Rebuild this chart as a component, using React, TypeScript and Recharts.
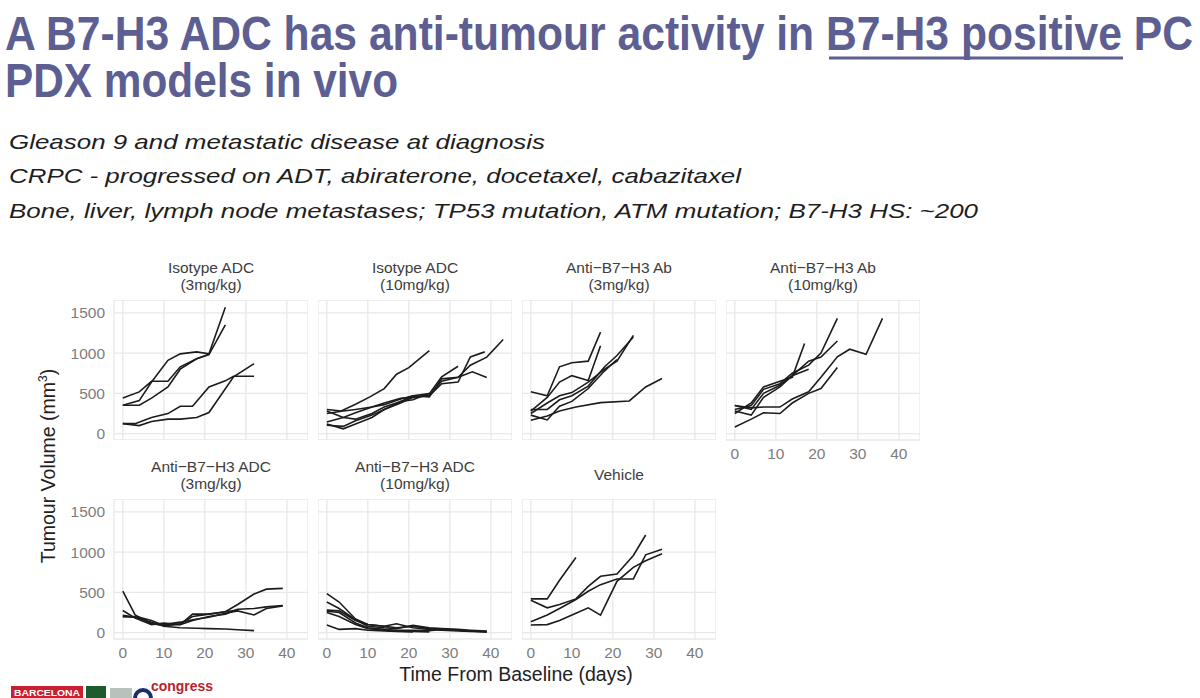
import { LineChart, Line, XAxis, YAxis, CartesianGrid } from 'recharts';

type Pt = [number, number];

// day / tumour volume (mm3) per mouse
const dayTicks = [0, 10, 20, 30, 40];
const volTicks = [0, 500, 1000, 1500];

const isotypeAdc3: Pt[][] = [
  [[0, 443], [4, 518], [7, 650], [11, 650], [14, 830], [18, 930], [21, 980], [25, 1350]],
  [[0, 352], [4, 410], [7, 640], [11, 910], [14, 990], [18, 1015], [21, 990], [25, 1570]],
  [[0, 352], [4, 352], [7, 440], [11, 580], [14, 800], [18, 930], [21, 985]],
  [[0, 124], [4, 100], [7, 150], [11, 180], [14, 180], [18, 200], [21, 262], [27, 705], [32, 870]],
  [[0, 124], [3, 124], [7, 200], [11, 249], [14, 340], [17, 340], [21, 580], [25, 655], [27, 713], [32, 713]],
];

const isotypeAdc10: Pt[][] = [
  [[0, 300], [3.5, 282], [7, 365], [10.5, 456], [14, 559], [17, 738], [20, 820], [25, 1030]],
  [[0, 250], [4, 280], [7, 300], [11, 330], [14, 360], [18, 430], [21, 470], [25, 497], [28, 704], [32, 837]],
  [[0, 145], [4, 200], [7, 260], [11, 330], [14, 380], [18, 440], [21, 450], [25, 480], [28, 650], [32, 700], [35.5, 767], [39, 696]],
  [[0, 104], [4, 90], [7, 160], [11, 230], [14, 300], [18, 380], [21, 450], [25, 470], [28, 620], [32, 640], [35, 953], [38.5, 1015]],
  [[0, 120], [4, 60], [7, 120], [11, 200], [14, 300], [18, 400], [21, 470], [25, 456], [28, 680], [32, 700], [35, 850], [39, 950], [43, 1169]],
  [[0, 280], [4, 200], [7, 180], [11, 250], [14, 330], [18, 400], [21, 420], [25, 500]],
];

const antiAb3: Pt[][] = [
  [[0, 520], [4, 470], [7, 830], [10, 880], [14, 900], [17, 1260]],
  [[0, 280], [4, 450], [7, 640], [10, 720], [14, 660], [17, 1090]],
  [[0, 250], [4, 380], [7, 470], [10, 510], [14, 640], [18, 800], [21, 900], [25, 1220]],
  [[0, 300], [4, 300], [7, 420], [10, 470], [14, 590], [18, 830], [21, 970], [25, 1200]],
  [[0, 230], [4, 170], [7, 340], [10, 400], [14, 560], [18, 780], [21, 920]],
  [[0, 166], [4, 220], [7, 280], [11, 330], [17, 385], [24, 406], [28, 580], [32, 684]],
];

const antiAb10: Pt[][] = [
  [[0, 300], [4, 350], [7, 550], [11, 620], [14, 750], [18, 850], [21, 1000], [25, 1430]],
  [[0, 350], [4, 300], [7, 500], [11, 600], [14, 720], [18, 900], [21, 950], [25, 1150]],
  [[0, 250], [4, 380], [7, 580], [11, 650], [14, 700], [17, 1120]],
  [[0, 280], [4, 230], [7, 450], [11, 580], [14, 720], [18, 800]],
  [[0, 350], [4, 320], [7, 330], [11, 330], [14, 430], [18, 520], [21, 700], [25, 953], [28, 1048], [32, 986], [36, 1430]],
  [[0, 83], [4, 180], [7, 260], [11, 250], [14, 380], [18, 500], [21, 560], [25, 820]],
];

const antiAdc3: Pt[][] = [
  [[0, 514], [3, 220], [7, 110], [10, 90], [14, 110], [17, 200], [21, 230], [25, 260], [28, 350], [32, 480], [35, 540], [39, 550]],
  [[0, 275], [3, 180], [7, 100], [10, 120], [14, 100], [17, 150], [21, 200], [25, 230], [28, 290], [32, 300], [35, 320], [39, 335]],
  [[0, 214], [3, 190], [7, 130], [10, 80], [14, 60], [18, 55], [21, 50], [25, 45], [28, 35], [32, 25]],
  [[0, 197], [3, 200], [7, 120], [10, 100], [14, 130], [17, 160], [21, 190], [25, 240], [28, 270], [32, 220], [35, 300], [39, 330]],
  [[0, 200], [4, 190], [7, 150], [10, 90], [14, 100], [17, 230], [21, 230], [25, 260], [28, 280]],
];

const antiAdc10: Pt[][] = [
  [[0, 484], [3, 380], [7, 170], [10, 100], [14, 80], [17, 110], [21, 60], [25, 40], [28, 30], [32, 20], [35, 15], [39, 10]],
  [[0, 381], [3, 300], [7, 160], [10, 80], [14, 60], [17, 50], [21, 90], [25, 60], [28, 50], [32, 40], [35, 30], [39, 20]],
  [[0, 266], [3, 250], [7, 120], [10, 60], [14, 40], [17, 30], [21, 30], [25, 25], [28, 40], [32, 30], [35, 20], [39, 15]],
  [[0, 250], [3, 200], [7, 100], [10, 50], [14, 30], [17, 20], [21, 15], [25, 10]],
  [[0, 94], [3, 40], [7, 50], [10, 30], [14, 20], [17, 15], [21, 10]],
  [[0, 280], [3, 270], [7, 150], [10, 100], [14, 80], [17, 60], [21, 80], [25, 50], [28, 40], [32, 30], [35, 20], [39, 10]],
];

const vehicle: Pt[][] = [
  [[0, 419], [4, 419], [7, 650], [11, 933]],
  [[0, 403], [4, 308], [7, 350], [11, 419], [14, 575], [17, 699], [21, 727], [25, 958], [28, 1212]],
  [[0, 136], [4, 220], [7, 300], [11, 411], [14, 514], [17, 596], [21, 666], [25, 666], [28, 966], [32, 1036]],
  [[0, 95], [4, 100], [7, 150], [11, 240], [14, 308], [17, 218], [21, 637], [25, 810], [28, 892], [32, 978]],
];

const panels = [
  { title: ['Isotype ADC', '(3mg/kg)'], mice: isotypeAdc3, row: 0, col: 0 },
  { title: ['Isotype ADC', '(10mg/kg)'], mice: isotypeAdc10, row: 0, col: 1 },
  { title: ['Anti\u2212B7\u2212H3 Ab', '(3mg/kg)'], mice: antiAb3, row: 0, col: 2 },
  { title: ['Anti\u2212B7\u2212H3 Ab', '(10mg/kg)'], mice: antiAb10, row: 0, col: 3 },
  { title: ['Anti\u2212B7\u2212H3 ADC', '(3mg/kg)'], mice: antiAdc3, row: 1, col: 0 },
  { title: ['Anti\u2212B7\u2212H3 ADC', '(10mg/kg)'], mice: antiAdc10, row: 1, col: 1 },
  { title: ['Vehicle'], mice: vehicle, row: 1, col: 2 },
];

const PLOT_W = 194;
const PLOT_H = 140;
const colLeft = [114, 318, 522, 726];
const rowTop = [300, 498.5];
const FONT = '"Liberation Sans", Arial, sans-serif';

const Panel = ({ p }: { p: (typeof panels)[number] }) => {
  const showY = p.col === 0;
  const showX = p.row === 1 || p.col === 3;
  const yW = showY ? 46 : 0;
  const xH = showX ? 26 : 0;
  const tick = { fontSize: 15.5, fill: '#7d7d7d', fontFamily: FONT };
  return (
    <>
      <div
        style={{
          position: 'absolute',
          left: colLeft[p.col],
          top: rowTop[p.row] - 41,
          width: PLOT_W,
          height: 34,
          display: 'flex',
          flexDirection: 'column',
          justifyContent: 'center',
          alignItems: 'center',
          fontFamily: FONT,
          fontSize: 15.5,
          lineHeight: '17px',
          color: '#3d3d3d',
        }}
      >
        {p.title.map((t) => (
          <div key={t}>{t}</div>
        ))}
      </div>
      <div style={{ position: 'absolute', left: colLeft[p.col] - yW, top: rowTop[p.row] }}>
        <LineChart
          width={PLOT_W + yW}
          height={PLOT_H + xH}
          margin={{ top: 0, right: 0, bottom: 0, left: 0 }}
          style={{ overflow: 'visible' }}
        >
          <CartesianGrid stroke="#e8e8e8" strokeWidth={1.3} />
          <XAxis
            dataKey="d"
            type="number"
            domain={[-2.15, 45.15]}
            ticks={dayTicks}
            interval={0}
            hide={!showX}
            height={xH}
            axisLine={false}
            tickLine={false}
            tickSize={0}
            tickMargin={8}
            tick={tick}
          />
          <YAxis
            type="number"
            domain={[-79, 1659]}
            ticks={volTicks}
            interval={0}
            hide={!showY}
            width={yW}
            axisLine={false}
            tickLine={false}
            tickSize={0}
            tickMargin={9}
            tick={tick}
          />
          {p.mice.map((m, i) => (
            <Line
              key={i}
              data={m.map(([d, v]) => ({ d, v }))}
              dataKey="v"
              type="linear"
              stroke="#1c1c1c"
              strokeWidth={1.6}
              dot={false}
              isAnimationActive={false}
            />
          ))}
        </LineChart>
      </div>
    </>
  );
};

const App = () => {
  const titleColor = '#5d5e92';
  return (
    <div style={{ position: 'absolute', left: 0, top: 0, width: 1200, height: 698, background: '#fff', overflow: 'hidden' }}>
      <svg width={1200} height={240} style={{ position: 'absolute', left: 0, top: 0 }}>
        <g fontFamily={FONT} fontWeight="bold" fontSize={48} fill={titleColor}>
          <text x={5} y={50} textLength={1188} lengthAdjust="spacingAndGlyphs">
            A B7-H3 ADC has anti-tumour activity in B7-H3 positive PC
          </text>
          <text x={5} y={97} textLength={393} lengthAdjust="spacingAndGlyphs">
            PDX models in vivo
          </text>
        </g>
        <line x1={829} x2={1123} y1={58} y2={58} stroke={titleColor} strokeWidth={3} />
        <g fontFamily={FONT} fontStyle="italic" fontSize={21} fill="#1e1e1e">
          <text x={9} y={149} textLength={536} lengthAdjust="spacingAndGlyphs">
            Gleason 9 and metastatic disease at diagnosis
          </text>
          <text x={9} y={183} textLength={732} lengthAdjust="spacingAndGlyphs">
            CRPC - progressed on ADT, abiraterone, docetaxel, cabazitaxel
          </text>
          <text x={9} y={218} textLength={969} lengthAdjust="spacingAndGlyphs">
            Bone, liver, lymph node metastases; TP53 mutation, ATM mutation; B7-H3 HS: ~200
          </text>
        </g>
      </svg>

      {panels.map((p) => (
        <Panel key={p.title.join(' ')} p={p} />
      ))}

      {/* axis titles */}
      <div
        style={{
          position: 'absolute',
          left: 48,
          top: 466,
          transform: 'translate(-50%, -50%) rotate(-90deg)',
          whiteSpace: 'nowrap',
          fontFamily: FONT,
          fontSize: 19.5,
          color: '#222',
        }}
      >
        Tumour Volume (mm<sup style={{ fontSize: 12 }}>3</sup>)
      </div>
      <div
        style={{
          position: 'absolute',
          left: 516,
          top: 674,
          transform: 'translate(-50%, -50%)',
          whiteSpace: 'nowrap',
          fontFamily: FONT,
          fontSize: 19.5,
          color: '#222',
        }}
      >
        Time From Baseline (days)
      </div>

      {/* congress logo, cut off at the bottom edge */}
      <svg width={230} height={22} style={{ position: 'absolute', left: 0, top: 676 }}>
        <rect x={11} y={10} width={72} height={12} fill="#c8202f" />
        <text x={14} y={20} fontFamily={FONT} fontWeight="bold" fontSize={8.5} fill="#fff" textLength={66} lengthAdjust="spacingAndGlyphs">BARCELONA</text>
        <rect x={86} y={10} width={20} height={12} fill="#1d5a2e" />
        <rect x={110} y={12} width={22} height={10} fill="#b7c2bc" />
        <circle cx={143} cy={22} r={8} fill="none" stroke="#1d2f6b" strokeWidth={4} />
        <text x={151} y={15} fontFamily={FONT} fontWeight="bold" fontSize={15} fill="#b8222e" textLength={62} lengthAdjust="spacingAndGlyphs">
          congress
        </text>
      </svg>
    </div>
  );
};

export default App;
